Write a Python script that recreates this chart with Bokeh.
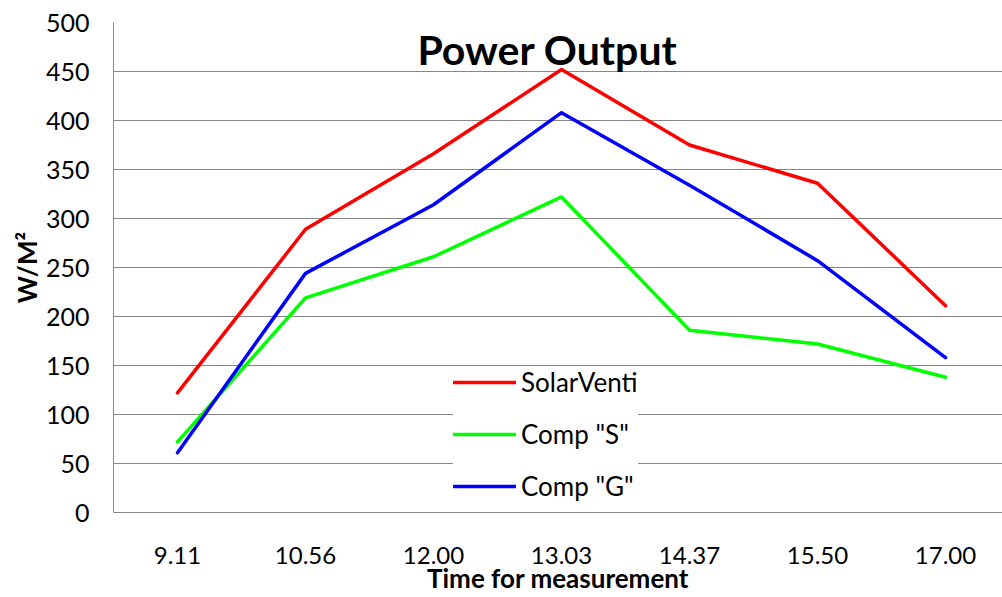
from bokeh.plotting import figure
from bokeh.models import Range1d, FixedTicker, Label
from bokeh.embed import file_html
from bokeh.resources import INLINE

# ---- data ----
times = ["9.11", "10.56", "12.00", "13.03", "14.37", "15.50", "17.00"]
solarventi = [122, 289, 366, 452, 375, 336, 211]
comp_s = [72, 219, 261, 322, 186, 172, 138]
comp_g = [61, 244, 314, 408, 334, 257, 158]
y_ticks = list(range(0, 501, 50))

x_idx = list(range(len(times)))

FONT = "Lato"
GRID = "#868686"

p = figure(width=1002, height=597, output_backend="svg", toolbar_location=None,
           x_range=Range1d(-0.5, 6.445), y_range=Range1d(0, 500),
           min_border_left=113, min_border_right=0, min_border_top=22,
           min_border_bottom=85)

p.line(x_idx, solarventi, line_width=3.5, color="#FF0000", legend_label="SolarVenti",
       line_join="round", line_cap="round")
p.line(x_idx, comp_s, line_width=3.5, color="#00FF00", legend_label='Comp "S"',
       line_join="round", line_cap="round")
p.line(x_idx, comp_g, line_width=3.5, color="#0000FF", legend_label='Comp "G"',
       line_join="round", line_cap="round")

p.outline_line_color = None
p.xgrid.grid_line_color = None
p.ygrid.grid_line_color = GRID
p.ygrid.grid_line_width = 1

# y axis
p.yaxis.ticker = FixedTicker(ticks=y_ticks)
p.yaxis.axis_line_color = GRID
p.yaxis.major_tick_line_color = None
p.yaxis.minor_tick_line_color = None
p.yaxis.major_tick_out = 0
p.yaxis.major_tick_in = 0
p.yaxis.major_label_standoff = 24
p.yaxis.major_label_text_font = FONT
p.yaxis.major_label_text_font_size = "25px"
p.yaxis.major_label_text_color = "#000000"
p.yaxis.axis_label = "W/M²"
p.yaxis.axis_label_text_font = FONT
p.yaxis.axis_label_text_font_style = "bold"
p.yaxis.axis_label_text_font_size = "26px"
p.yaxis.axis_label_text_color = "#000000"
p.yaxis.axis_label_standoff = 0

# x axis
p.xaxis.ticker = FixedTicker(ticks=x_idx)
p.xaxis.major_label_overrides = {i: t for i, t in zip(x_idx, times)}
p.xaxis.axis_line_color = GRID
p.xaxis.major_tick_line_color = None
p.xaxis.minor_tick_line_color = None
p.xaxis.major_tick_out = 0
p.xaxis.major_tick_in = 0
p.xaxis.major_label_standoff = 34
p.xaxis.major_label_text_font = FONT
p.xaxis.major_label_text_font_size = "24px"
p.xaxis.major_label_text_color = "#000000"
p.xaxis.axis_label = "Time for measurement"
p.xaxis.axis_label_text_font = FONT
p.xaxis.axis_label_text_font_style = "bold"
p.xaxis.axis_label_text_font_size = "26px"
p.xaxis.axis_label_text_color = "#000000"
p.xaxis.axis_label_standoff = -5

# title inside the plot area
title = Label(x=434, y=463, x_units="screen", y_units="screen", text="Power Output",
              text_font=FONT, text_font_style="bold", text_font_size="41px",
              text_align="center", text_baseline="alphabetic", text_color="#000000")
p.add_layout(title)

# legend
lg = p.legend[0]
lg.location = (340, 10)
lg.glyph_width = 63
lg.glyph_height = 30
lg.label_height = 30
lg.label_standoff = 5
lg.spacing = 20
lg.padding = 8
lg.margin = 0
lg.border_line_color = None
lg.background_fill_color = "#FFFFFF"
lg.background_fill_alpha = 1.0
lg.label_text_font = FONT
lg.label_text_font_size = "26px"
lg.label_text_color = "#000000"

open("out.html", "w").write(file_html(p, INLINE))
